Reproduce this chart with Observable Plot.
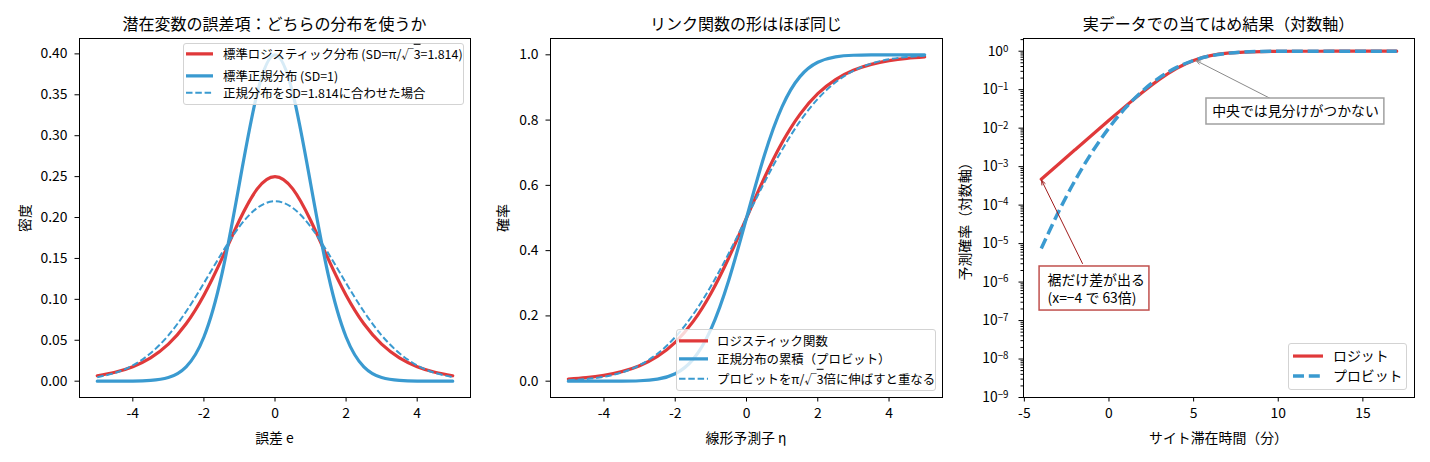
<!DOCTYPE html>
<html><head><meta charset="utf-8">
<script src="https://cdn.jsdelivr.net/npm/d3@7"></script>
<script src="https://cdn.jsdelivr.net/npm/@observablehq/plot@0.6"></script>
<style>
body{margin:0;background:#fff;}
#wrap{position:relative;width:1430px;height:462px;font-family:"Noto Sans CJK JP",sans-serif;color:#000;overflow:hidden;}
.abs{position:absolute;white-space:nowrap;line-height:1;}
.title{font-size:16px;transform:translate(-50%,-50%);}
.xlab{font-size:13.9px;transform:translate(-50%,-50%);}
.ylab{font-size:13.9px;transform:translate(-50%,-50%) rotate(-90deg);}
.legend{position:absolute;border:1px solid #d3d3d3;border-radius:3px;background:rgba(255,255,255,0.8);box-sizing:border-box;z-index:5;}
.lrow{position:absolute;white-space:nowrap;transform:translateY(-50%);z-index:6;display:flex;align-items:center;line-height:1;}
.lrow svg{display:block;}
.ol{text-decoration:overline;}
</style></head>
<body><div id="wrap"></div>
<script>
// ---------- data ----------
const etaX = [-5,-4.5,-4,-3.5,-3,-2.5,-2,-1.5,-1,-0.5,0,0.5,1,1.5,2,2.5,3,3.5,4,4.5,5];
const logisticPdf = [0.0066,0.0109,0.0177,0.0285,0.0452,0.0701,0.1050,0.1491,0.1966,0.2350,0.2500,0.2350,0.1966,0.1491,0.1050,0.0701,0.0452,0.0285,0.0177,0.0109,0.0066];
const normalPdf = [0.0000,0.0000,0.0001,0.0009,0.0044,0.0175,0.0540,0.1295,0.2420,0.3521,0.3989,0.3521,0.2420,0.1295,0.0540,0.0175,0.0044,0.0009,0.0001,0.0000,0.0000];
const scaledNormalPdf = [0.0049,0.0101,0.0193,0.0342,0.0560,0.0851,0.1198,0.1562,0.1889,0.2117,0.2199,0.2117,0.1889,0.1562,0.1198,0.0851,0.0560,0.0342,0.0193,0.0101,0.0049];
const logisticCdf = [0.0067,0.0110,0.0180,0.0293,0.0474,0.0759,0.1192,0.1824,0.2689,0.3775,0.5000,0.6225,0.7311,0.8176,0.8808,0.9241,0.9526,0.9707,0.9820,0.9890,0.9933];
const normalCdf = [0.0000,0.0000,0.0000,0.0002,0.0013,0.0062,0.0228,0.0668,0.1587,0.3085,0.5000,0.6915,0.8413,0.9332,0.9772,0.9938,0.9987,0.9998,1.0000,1.0000,1.0000];
const scaledNormalCdf = [0.0029,0.0066,0.0137,0.0268,0.0491,0.0841,0.1351,0.2041,0.2907,0.3914,0.5000,0.6086,0.7093,0.7959,0.8649,0.9159,0.9509,0.9732,0.9863,0.9934,0.9971];
const minutes = [-4,-3,-2,-1,0,1,2,3,4,5,6,7,8,9,10,11,12,13,14,15,16,17];
const logitPred = [4.71e-4,1.142e-3,2.76e-3,6.66e-3,0.0160,0.0379,0.0871,0.1877,0.3589,0.5757,0.7667,0.8884,0.9507,0.9791,0.9912,0.9964,0.9985,0.9994,0.99974,0.99989,0.99996,0.99998];
const probitPred = [7.44e-6,6.43e-5,4.40e-4,2.38e-3,0.01017,0.0346,0.0944,0.2087,0.3790,0.5773,0.7574,0.8851,0.9558,0.9863,0.99664,0.99934,0.99990,0.999988,0.999999,1.0,1.0,1.0];

const ticks1X = [-4,-2,0,2,4];
const ticks1Y = [0,0.05,0.10,0.15,0.20,0.25,0.30,0.35,0.40];
const ticks2Y = [0,0.2,0.4,0.6,0.8,1.0];
const ticks3X = [-5,0,5,10,15];
const ticks3Y = [1e-9,1e-8,1e-7,1e-6,1e-5,1e-4,1e-3,1e-2,1e-1,1e0];

const titles = ["潜在変数の誤差項：どちらの分布を使うか","リンク関数の形はほぼ同じ","実データでの当てはめ結果（対数軸）"];
const xLabels = ["誤差 e","線形予測子 η","サイト滞在時間（分）"];
const yLabels = ["密度","確率","予測確率（対数軸）"];

// annotations (data coordinates of panel 3)
const noteCenter = {text:"中央では見分けがつかない", x:11.02, y:0.0271, box:[5.76,16.27,0.01245,0.059], from:[9.54,0.059], to:[5.15,0.57]};
const noteTail = {text:"裾だけ差が出る\n(x=−4 で 63倍)", x:-3.63, y:6.8e-7, box:[-4.10,2.39,1.82e-7,2.54e-6], from:[-1.565,3.04e-6], to:[-3.98,4.4e-4]};

// ---------- styles ----------
const RED = "#e0393a", BLUE = "#3a9ad0";
const FONT = '"Noto Sans CJK JP", sans-serif';
const TICKFS = 13.9, TS = 4.5;
const wrap = document.getElementById("wrap");
const rows = (xs, ys) => xs.map((x, i) => ({x, y: ys[i]}));
const fmtPlain = d => String(d);
const fmtPow = d => "10^" + String(Math.round(Math.log10(d))).replace("-", "−");
const minor3Y = [];
for (let k = -9; k <= 0; k++) for (let m = 2; m <= 9; m++) { const v = m * Math.pow(10, k); if (v <= 2.14) minor3Y.push(v); }

const frames = [[79,470],[550,942],[1023,1414]];
const TOP = 38, BOTTOM = 397, H = 462;

function place(svg, left) {
  svg.style.position = "absolute"; svg.style.left = left + "px"; svg.style.top = "0px";
  wrap.appendChild(svg);
}
const baseStyle = {fontFamily: FONT, fontSize: TICKFS + "px", background: "transparent", color: "black", overflow: "visible"};
const xAxis = ticks => Plot.axisX({ticks, tickFormat: fmtPlain, tickSize: TS, tickPadding: 6.5, label: null});

// Panel 1
{
  const left = 0, width = 478;
  place(Plot.plot({
    width, height: H, marginLeft: frames[0][0]-left, marginRight: left+width-frames[0][1], marginTop: TOP, marginBottom: H-BOTTOM,
    style: baseStyle,
    x: {domain: [-5.5, 5.5]},
    y: {domain: [-0.01995, 0.4188]},
    marks: [
      xAxis(ticks1X),
      Plot.axisY({ticks: ticks1Y, tickFormat: d => d.toFixed(2), tickSize: TS, tickPadding: 7.5, label: null}),
      Plot.line(rows(etaX, logisticPdf), {x: "x", y: "y", stroke: RED, strokeWidth: 3.2, curve: "natural"}),
      Plot.line(rows(etaX, normalPdf), {x: "x", y: "y", stroke: BLUE, strokeWidth: 3.2, curve: "natural"}),
      Plot.line(rows(etaX, scaledNormalPdf), {x: "x", y: "y", stroke: BLUE, strokeWidth: 2, strokeDasharray: "6.5,2.8", strokeLinecap: "butt", curve: "natural"}),
      Plot.frame({stroke: "black", strokeWidth: 1})
    ]
  }), left);
}
// Panel 2
{
  const left = 478, width = 472;
  place(Plot.plot({
    width, height: H, marginLeft: frames[1][0]-left, marginRight: left+width-frames[1][1], marginTop: TOP, marginBottom: H-BOTTOM,
    style: baseStyle,
    x: {domain: [-5.5, 5.5]},
    y: {domain: [-0.05, 1.05]},
    marks: [
      xAxis(ticks1X),
      Plot.axisY({ticks: ticks2Y, tickFormat: d => d.toFixed(1), tickSize: TS, tickPadding: 7.5, label: null}),
      Plot.line(rows(etaX, logisticCdf), {x: "x", y: "y", stroke: RED, strokeWidth: 3.2, curve: "natural"}),
      Plot.line(rows(etaX, normalCdf), {x: "x", y: "y", stroke: BLUE, strokeWidth: 3.2, curve: "natural"}),
      Plot.line(rows(etaX, scaledNormalCdf), {x: "x", y: "y", stroke: BLUE, strokeWidth: 2, strokeDasharray: "6.5,2.8", strokeLinecap: "butt", curve: "natural"}),
      Plot.frame({stroke: "black", strokeWidth: 1})
    ]
  }), left);
}
// Panel 3
{
  const left = 950, width = 480;
  const nb = noteCenter.box, tb = noteTail.box;
  const svg = Plot.plot({
    width, height: H, marginLeft: frames[2][0]-left, marginRight: left+width-frames[2][1], marginTop: TOP, marginBottom: H-BOTTOM,
    style: baseStyle,
    x: {domain: [-5.05, 18.05]},
    y: {type: "log", domain: [1e-9, 2.14]},
    marks: [
      xAxis(ticks3X),
      Plot.axisY({ticks: minor3Y, tickFormat: () => "", tickSize: 2.5, label: null}),
      Plot.axisY({ticks: ticks3Y, tickFormat: fmtPow, tickSize: TS, tickPadding: 10.5, label: null}),
      Plot.line(rows(minutes, logitPred), {x: "x", y: "y", stroke: RED, strokeWidth: 3.2, curve: "natural"}),
      Plot.line(rows(minutes, probitPred), {x: "x", y: "y", stroke: BLUE, strokeWidth: 3.5, strokeDasharray: "11,4.8", strokeLinecap: "butt", curve: "natural"}),
      Plot.arrow([noteCenter], {x1: () => noteCenter.from[0], y1: () => noteCenter.from[1], x2: () => noteCenter.to[0], y2: () => noteCenter.to[1], stroke: "#8a8a8a", strokeWidth: 1, headLength: 7, headAngle: 45}),
      Plot.rect([noteCenter], {x1: () => nb[0], x2: () => nb[1], y1: () => nb[2], y2: () => nb[3], fill: "white", stroke: "#a0a0a0", strokeWidth: 1.5}),
      Plot.text([noteCenter], {x: "x", y: "y", text: "text", fontSize: 13.9, textAnchor: "middle", fill: "black"}),
      Plot.arrow([noteTail], {x1: () => noteTail.from[0], y1: () => noteTail.from[1], x2: () => noteTail.to[0], y2: () => noteTail.to[1], stroke: "#a01c1c", strokeWidth: 1, headLength: 7, headAngle: 45}),
      Plot.rect([noteTail], {x1: () => tb[0], x2: () => tb[1], y1: () => tb[2], y2: () => tb[3], fill: "white", stroke: "#c0504d", strokeWidth: 1.5}),
      Plot.text([noteTail], {x: "x", y: "y", text: "text", fontSize: 13.9, textAnchor: "start", lineHeight: 1.3, fill: "black"}),
      Plot.frame({stroke: "black", strokeWidth: 1})
    ]
  });
  // render the exponent as a real superscript
  svg.querySelectorAll("text").forEach(t => {
    const m = /^10\^(.+)$/.exec(t.textContent);
    if (!m) return;
    t.textContent = "10";
    const s = document.createElementNS("http://www.w3.org/2000/svg", "tspan");
    s.setAttribute("dy", "-0.42em"); s.setAttribute("font-size", "9.8px"); s.textContent = m[1];
    t.appendChild(s);
  });
  place(svg, left);
}

// titles and axis labels
function addDiv(cls, html, x, y) {
  const d = document.createElement("div"); d.className = "abs " + cls; d.innerHTML = html;
  d.style.left = x + "px"; d.style.top = y + "px"; wrap.appendChild(d); return d;
}
const yLabX = [25, 503, 965];
frames.forEach(([a, b], i) => {
  addDiv("title", titles[i], (a + b) / 2, 23);
  addDiv("xlab", xLabels[i], (a + b) / 2, 438);
  addDiv("ylab", yLabels[i], yLabX[i], (TOP + BOTTOM) / 2);
});

// legends
function handle(color, w, dash, len) {
  return `<svg width="${len}" height="10"><line x1="0" y1="5" x2="${len}" y2="5" stroke="${color}" stroke-width="${w}" ${dash ? `stroke-dasharray="${dash}"` : ""}/></svg>`;
}
function legend(box, entries, hx, tx, fs) {
  const b = document.createElement("div"); b.className = "legend";
  b.style.left = box[0] + "px"; b.style.top = box[1] + "px"; b.style.width = (box[2]-box[0]) + "px"; b.style.height = (box[3]-box[1]) + "px";
  wrap.appendChild(b);
  entries.forEach(e => {
    const r = document.createElement("div"); r.className = "lrow";
    r.style.left = hx + "px"; r.style.top = e.y + "px"; r.style.fontSize = fs + "px";
    r.innerHTML = handle(e.color, e.w, e.dash, e.len) + `<span style="margin-left:${tx - hx - e.len}px">${e.label}</span>`;
    wrap.appendChild(r);
  });
}
legend([183, 43, 464, 105], [
  {y: 54, color: RED, w: 3.2, len: 27, label: '標準ロジスティック分布 (SD=π/√<span class="ol">3</span>=1.814)'},
  {y: 76, color: BLUE, w: 3.2, len: 27, label: '標準正規分布 (SD=1)'},
  {y: 93, color: BLUE, w: 2, dash: "6.5,2.8", len: 27, label: '正規分布をSD=1.814に合わせた場合'}
], 186, 223, 12.4);
legend([676, 329, 936, 391], [
  {y: 341, color: RED, w: 3.2, len: 29, label: 'ロジスティック関数'},
  {y: 359, color: BLUE, w: 3.2, len: 29, label: '正規分布の累積（プロビット）'},
  {y: 379, color: BLUE, w: 2, dash: "6.5,2.8", len: 29, label: 'プロビットをπ/√<span class="ol">3</span>倍に伸ばすと重なる'}
], 679, 717, 12.4);
legend([1288, 343, 1407, 390], [
  {y: 356, color: RED, w: 3.2, len: 30, label: 'ロジット'},
  {y: 376, color: BLUE, w: 3.5, dash: "11,4.8", len: 30, label: 'プロビット'}
], 1293, 1333, 13.9);
</script></body></html>
